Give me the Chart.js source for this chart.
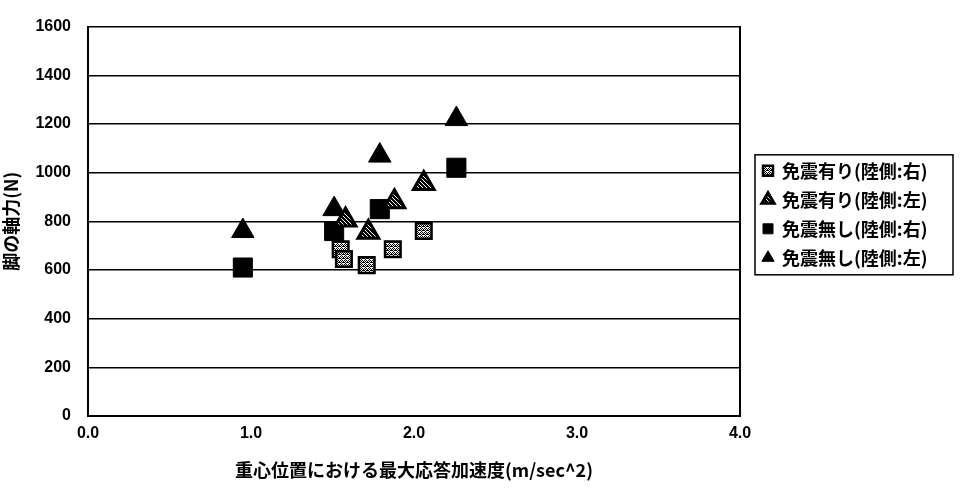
<!DOCTYPE html>
<html><head><meta charset="utf-8">
<script src="https://cdn.jsdelivr.net/npm/chart.js@4/dist/chart.umd.min.js"></script>
<style>html,body{margin:0;padding:0;background:#fff}</style>
</head><body>
<canvas id="c" width="960" height="493"></canvas>
<script>
// ---- data ----
const seriesNames = ['免震有り(陸側:右)', '免震有り(陸側:左)', '免震無し(陸側:右)', '免震無し(陸側:左)'];
const ariRightX = [1.55, 1.57, 1.71, 1.87, 2.06];
const ariRightY = [685, 645, 620, 685, 760];
const ariLeftX  = [1.58, 1.72, 1.88, 2.06];
const ariLeftY  = [805, 755, 880, 955];
const nashiRightX = [0.95, 1.51, 1.79, 2.26];
const nashiRightY = [610, 760, 850, 1020];
const nashiLeftX  = [0.95, 1.51, 1.79, 2.26];
const nashiLeftY  = [760, 850, 1070, 1220];
const xTickLabels = ['0.0', '1.0', '2.0', '3.0', '4.0'];
const yTickLabels = ['0', '200', '400', '600', '800', '1000', '1200', '1400', '1600'];
const xTitle = '重心位置における最大応答加速度(m/sec^2)';
const yTitle = '脚の軸力(N)';

function pts(xs, ys) { return xs.map((x, i) => ({x: x, y: ys[i]})); }

function makePattern(dots) {
  const c = document.createElement('canvas');
  c.width = 4; c.height = 4;
  const g = c.getContext('2d');
  g.fillStyle = '#fff'; g.fillRect(0, 0, 4, 4);
  g.fillStyle = '#000';
  dots.forEach(p => g.fillRect(p[0], p[1], 1, 1));
  return g.createPattern(c, 'repeat');
}
const hatchSquare = makePattern([[0,0],[2,0],[1,1],[3,2],[0,2],[2,2],[1,3],[3,1]]);
const hatchTri = makePattern([[0,0],[1,0],[2,0],[1,1],[2,1],[3,1],[0,2],[2,2],[3,2],[0,3],[1,3],[3,3]]);

const CJK = '"Noto Sans CJK JP", "Noto Sans CJK SC", sans-serif';
const NUM = '"Liberation Sans", Arial, sans-serif';

const legendBorder = {
  id: 'legendBorder',
  beforeLayout(chart) {
    const lg = chart.legend;
    if (lg && !lg._patched) {
      const f = lg.fit.bind(lg);
      lg.fit = function () { f(); this.width = 208; };
      lg._patched = true;
    }
  },
  afterLayout(chart) {
    const lg = chart.legend;
    if (lg) { lg.top -= 7; lg.bottom -= 7; }
  },
  afterDraw(chart) {
    const lg = chart.legend;
    if (!lg || !lg.legendHitBoxes || !lg.legendHitBoxes.length) return;
    const hb = lg.legendHitBoxes;
    const l = Math.min(...hb.map(h => h.left)) - 8;
    const r = lg.right - 7;
    const t = hb[0].top - 7;
    const last = hb[hb.length - 1];
    const b = last.top + last.height + 8;
    const ctx = chart.ctx;
    ctx.save();
    ctx.strokeStyle = '#000';
    ctx.lineWidth = 1.5;
    ctx.strokeRect(l, t, r - l, b - t);
    ctx.restore();
  }
};

new Chart(document.getElementById('c'), {
  type: 'scatter',
  data: {
    datasets: [
      { label: seriesNames[0], data: pts(ariRightX, ariRightY), pointStyle: 'rect', pointRadius: 11, pointHoverRadius: 11,
        backgroundColor: hatchSquare, borderColor: '#000', borderWidth: 2.5 },
      { label: seriesNames[1], data: pts(ariLeftX, ariLeftY), pointStyle: 'triangle', pointRadius: 12, pointHoverRadius: 12,
        backgroundColor: hatchTri, borderColor: '#000', borderWidth: 3 },
      { label: seriesNames[2], data: pts(nashiRightX, nashiRightY), pointStyle: 'rect', pointRadius: 13.5, pointHoverRadius: 13.5,
        backgroundColor: '#000', borderColor: '#000', borderWidth: 1 },
      { label: seriesNames[3], data: pts(nashiLeftX, nashiLeftY), pointStyle: 'triangle', pointRadius: 13, pointHoverRadius: 13,
        backgroundColor: '#000', borderColor: '#000', borderWidth: 1 }
    ]
  },
  options: {
    responsive: false,
    animation: false,
    devicePixelRatio: 1,
    layout: { padding: { top: 19, right: 0, bottom: 0, left: 0 } },
    plugins: {
      tooltip: { enabled: false },
      legend: {
        position: 'right',
        fullSize: false,
        labels: {
          usePointStyle: true, boxWidth: 10, boxHeight: 10, padding: 11,
          color: '#000', font: { family: CJK, size: 18, weight: 'bold' }
        }
      }
    },
    scales: {
      x: {
        type: 'linear', min: 0, max: 4,
        grid: { display: false, drawTicks: false },
        border: { display: true, color: '#000', width: 2 },
        ticks: { stepSize: 1, padding: 8, color: '#000', font: { family: NUM, size: 16, weight: 'bold' },
          callback: (v, i) => xTickLabels[i] },
        title: { display: true, text: xTitle, color: '#000', padding: { top: 0, bottom: 12 },
          font: { family: CJK, size: 18, weight: 'bold' } },
        afterFit: s => { s.height = 77; }
      },
      y: {
        type: 'linear', min: 0, max: 1600,
        grid: { color: '#000', lineWidth: 1.5, drawTicks: false },
        border: { display: true, color: '#000', width: 2 },
        ticks: { stepSize: 200, padding: 17, color: '#000', font: { family: NUM, size: 16, weight: 'bold' },
          callback: (v, i) => yTickLabels[i] },
        title: { display: true, text: yTitle, color: '#000', padding: { top: 0, bottom: 0 },
          font: { family: CJK, size: 18, weight: 'bold' } },
        afterFit: s => { s.width = 88; }
      },
      y2: {
        type: 'linear', position: 'right', min: 0, max: 1600,
        grid: { display: false, drawTicks: false },
        border: { display: true, color: '#000', width: 2 },
        ticks: { display: false },
        afterFit: s => { s.width = 12; }
      }
    }
  },
  plugins: [legendBorder]
});
</script>
</body></html>
